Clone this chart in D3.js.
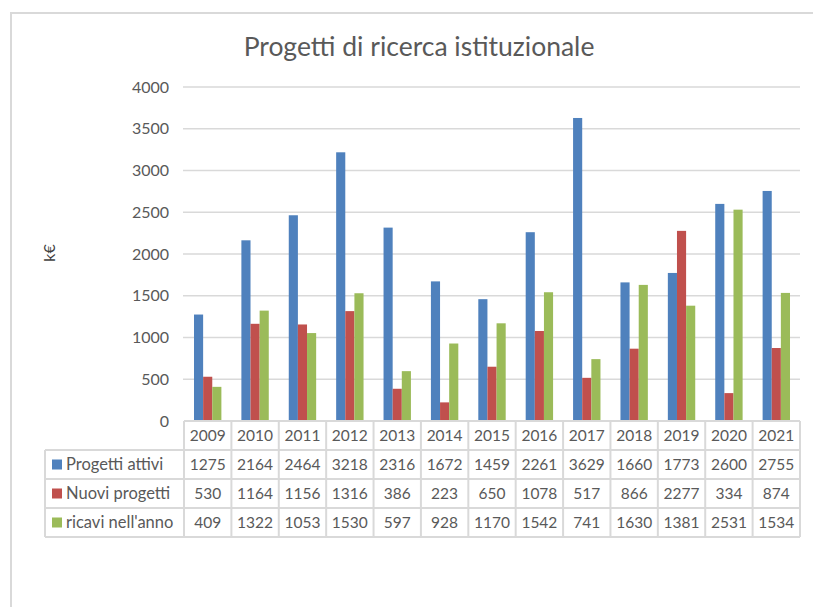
<!DOCTYPE html>
<html lang="it">
<head>
<meta charset="utf-8">
<title>Progetti di ricerca istituzionale</title>
<style>
  body { margin: 0; background: #fff; }
  svg { display: block; font-family: Lato, "Open Sans", sans-serif; }
  .tick-label, .cell, .legend-label { fill: #595959; }
</style>
</head>
<body>
<div id="chart"></div>
<script src="https://d3js.org/d3.v7.min.js"></script>
<script>
// data
var years = ["2009","2010","2011","2012","2013","2014","2015","2016","2017","2018","2019","2020","2021"];
var seriesNames = ["Progetti attivi", "Nuovi progetti", "ricavi nell'anno"];
var progettiAttivi = [1275, 2164, 2464, 3218, 2316, 1672, 1459, 2261, 3629, 1660, 1773, 2600, 2755];
var nuoviProgetti  = [530, 1164, 1156, 1316, 386, 223, 650, 1078, 517, 866, 2277, 334, 874];
var ricaviAnno     = [409, 1322, 1053, 1530, 597, 928, 1170, 1542, 741, 1630, 1381, 2531, 1534];
var yTicks = [0, 500, 1000, 1500, 2000, 2500, 3000, 3500, 4000];
var colors = ["#4F81BD", "#C0504D", "#9BBB59"];

var seriesValues = [progettiAttivi, nuoviProgetti, ricaviAnno];

var W = 813, H = 607;
var plotLeft = 184, plotRight = 800, plotTop = 87, plotBottom = 421;
var rowH = 29, legendLeft = 45;
var gridColor = "#D9D9D9";

var svg = d3.select("#chart").append("svg")
    .attr("width", W)
    .attr("height", H);

// outer chart border (runs off the right and bottom of the picture)
svg.append("rect")
    .attr("x", 11).attr("y", 13)
    .attr("width", 900).attr("height", 700)
    .attr("fill", "none")
    .attr("stroke", gridColor)
    .attr("stroke-width", 2);

svg.append("text")
    .attr("x", 419).attr("y", 56)
    .attr("text-anchor", "middle")
    .style("font-size", "26.5px")
    .style("fill", "#595959")
    .text("Progetti di ricerca istituzionale");

var x = d3.scaleBand()
    .domain(years)
    .range([plotLeft, plotRight])
    .padding(0);

var y = d3.scaleLinear()
    .domain([0, 4000])
    .range([plotBottom, plotTop]);

// gridlines
svg.append("g")
  .selectAll("line")
  .data(yTicks.filter(function(d) { return d > 0; }))
  .enter().append("line")
    .attr("x1", plotLeft - 1).attr("x2", plotRight)
    .attr("y1", function(d) { return y(d); })
    .attr("y2", function(d) { return y(d); })
    .attr("stroke", gridColor)
    .attr("stroke-width", 1.5);

// y axis labels
var yAxis = svg.append("g")
    .attr("transform", "translate(" + (plotLeft - 15) + ",0)")
    .call(d3.axisLeft(y).tickValues(yTicks).tickFormat(d3.format("d")).tickSize(0).tickPadding(0));
yAxis.select(".domain").remove();
yAxis.selectAll("text")
    .attr("class", "tick-label")
    .attr("fill", null)
    .style("font-size", "16px")
    .style("font-family", "Lato, 'Open Sans', sans-serif");

svg.append("text")
    .attr("transform", "translate(55,253) rotate(-90)")
    .attr("text-anchor", "middle")
    .style("font-size", "16px")
    .style("fill", "#404040")
    .text("k€");

// bars
var gapRatio = 2.19;
var barW = x.bandwidth() / (3 + gapRatio);
var xInner = d3.scaleBand()
    .domain(d3.range(3))
    .range([barW * gapRatio / 2, x.bandwidth() - barW * gapRatio / 2])
    .padding(0);

var groups = svg.append("g").selectAll("g")
    .data(years)
    .enter().append("g")
    .attr("transform", function(d) { return "translate(" + x(d) + ",0)"; });

groups.selectAll("rect")
    .data(function(d, i) {
        return seriesValues.map(function(vals, s) { return { s: s, v: vals[i] }; });
    })
    .enter().append("rect")
    .attr("x", function(d) { return xInner(d.s); })
    .attr("width", xInner.bandwidth())
    .attr("y", function(d) { return y(d.v); })
    .attr("height", function(d) { return plotBottom - y(d.v); })
    .attr("fill", function(d) { return colors[d.s]; });

// data table
var table = svg.append("g");
var tableBottom = plotBottom + rowH * 4;

// horizontal lines
table.append("line")
    .attr("x1", plotLeft).attr("x2", plotRight)
    .attr("y1", plotBottom).attr("y2", plotBottom);
d3.range(1, 5).forEach(function(r) {
    table.append("line")
        .attr("x1", legendLeft).attr("x2", plotRight)
        .attr("y1", plotBottom + r * rowH).attr("y2", plotBottom + r * rowH);
});
// vertical lines
years.forEach(function(yr) {
    table.append("line")
        .attr("x1", x(yr)).attr("x2", x(yr))
        .attr("y1", plotBottom).attr("y2", tableBottom);
});
table.append("line")
    .attr("x1", plotRight).attr("x2", plotRight)
    .attr("y1", plotBottom).attr("y2", tableBottom);
table.append("line")
    .attr("x1", legendLeft).attr("x2", legendLeft)
    .attr("y1", plotBottom + rowH).attr("y2", tableBottom);
table.selectAll("line")
    .attr("stroke", gridColor)
    .attr("stroke-width", 2);

// header row: years
table.selectAll("text.year")
    .data(years)
    .enter().append("text")
    .attr("class", "cell year")
    .attr("x", function(d) { return x(d) + x.bandwidth() / 2; })
    .attr("y", plotBottom + rowH / 2)
    .attr("dy", "0.35em")
    .attr("text-anchor", "middle")
    .style("font-size", "15.5px")
    .text(function(d) { return d; });

seriesNames.forEach(function(name, s) {
    var rowMid = plotBottom + rowH * (s + 1) + rowH / 2;
    table.append("rect")
        .attr("x", 52).attr("y", rowMid - 5)
        .attr("width", 10).attr("height", 10)
        .attr("fill", colors[s]);
    table.append("text")
        .attr("class", "legend-label")
        .attr("x", 66).attr("y", rowMid)
        .attr("dy", "0.35em")
        .style("font-size", "16.5px")
        .text(name);
    table.selectAll("text.v" + s)
        .data(seriesValues[s])
        .enter().append("text")
        .attr("class", "cell v" + s)
        .attr("x", function(d, i) { return x(years[i]) + x.bandwidth() / 2; })
        .attr("y", rowMid)
        .attr("dy", "0.35em")
        .attr("text-anchor", "middle")
        .style("font-size", "15.5px")
        .text(function(d) { return d; });
});
</script>
</body>
</html>
